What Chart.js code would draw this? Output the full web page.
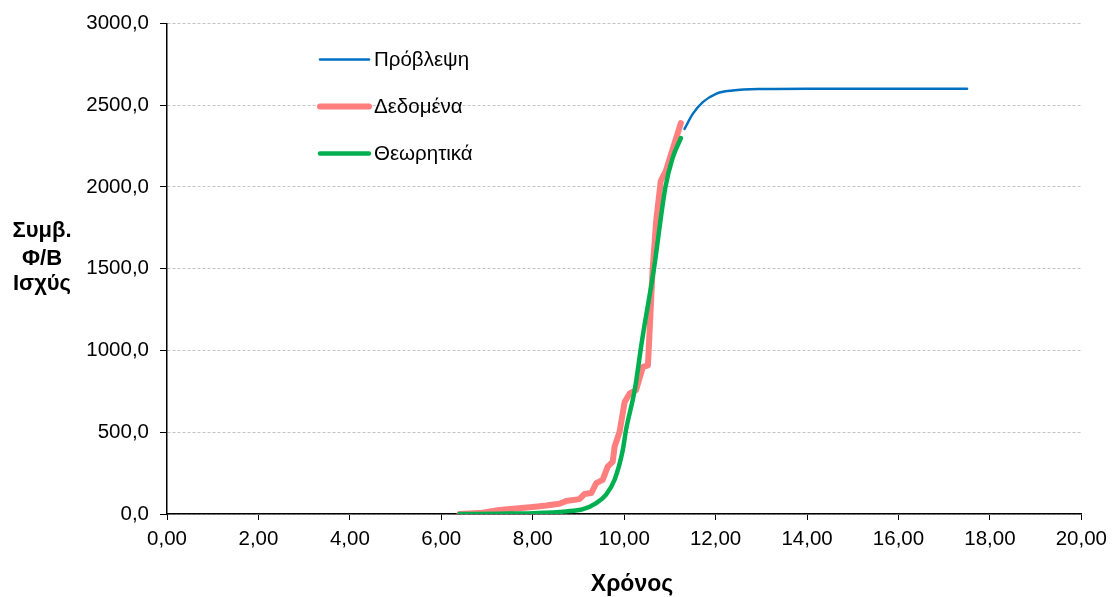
<!DOCTYPE html>
<html>
<head>
<meta charset="utf-8">
<script src="https://cdn.jsdelivr.net/npm/chart.js@4.4.1/dist/chart.umd.min.js"></script>
<style>
    html, body { margin: 0; padding: 0; background: #fff; }
    #wrap { width: 1114px; height: 597px; position: relative; }
</style>
</head>
<body>
<div id="wrap"><canvas id="chart"></canvas></div>
<script>
// Πρόβλεψη
const predX = [11.32, 11.50, 11.72, 12.01, 12.37, 12.95, 14.00, 17.50];
const predY = [2354, 2446, 2518, 2569, 2589, 2598, 2600, 2600];

// Δεδομένα
const dataX = [6.40, 6.90, 7.27, 7.70, 8.00, 8.30, 8.58, 8.73, 9.02, 9.13, 9.28, 9.39, 9.53, 9.64, 9.75, 9.79, 9.90,
    10.01, 10.12, 10.26, 10.41, 10.52, 10.55, 10.62, 10.70, 10.80, 10.91, 11.10, 11.24];
const dataY = [0, 8, 24, 35, 43, 52, 63, 79, 91, 122, 128, 189, 209, 290, 320, 411, 503,
    685, 737, 757, 899, 909, 1081, 1487, 1791, 2035, 2096, 2265, 2390];

// Θεωρητικά
const theoX = [6.40, 7.27, 8.00, 8.73, 9.10, 9.39, 9.60, 9.79, 9.97, 10.04, 10.23, 10.39, 10.65, 10.90, 11.06, 11.24];
const theoY = [0, 2, 5, 16, 30, 67, 117, 209, 391, 513, 757, 1060, 1497, 1996, 2177, 2298];

const labels = ['Πρόβλεψη', 'Δεδομένα', 'Θεωρητικά'];
const colors = ['#0070C0', '#FF7F7F', '#00B050'];
const widths = [2.5, 6, 4.5];

const xTicks = [0, 2, 4, 6, 8, 10, 12, 14, 16, 18, 20];
const yTicks = [0, 500, 1000, 1500, 2000, 2500, 3000];

const yTitle = ['Συμβ.', 'Φ/Β', 'Ισχύς'];
const xTitle = 'Χρόνος';

const FONT = "'Liberation Sans', Arial, sans-serif";
Chart.defaults.font.family = FONT;
Chart.defaults.color = '#000';

function toPoints(xs, ys) {
    return xs.map((x, i) => ({ x: x, y: ys[i] }));
}

// λεζάντα και τίτλοι αξόνων
const extras = {
    id: 'extras',
    afterDraw(chart) {
        const ctx = chart.ctx;
        ctx.save();
        // λεζάντα
        const legendY = [59.5, 106.5, 153.5];
        ctx.font = '20.5px ' + FONT;
        ctx.textBaseline = 'middle';
        ctx.textAlign = 'left';
        labels.forEach((lab, i) => {
            ctx.strokeStyle = colors[i];
            ctx.lineWidth = widths[i];
            ctx.lineCap = 'round';
            ctx.beginPath();
            ctx.moveTo(320, legendY[i]);
            ctx.lineTo(369, legendY[i]);
            ctx.stroke();
            ctx.fillStyle = '#000';
            ctx.fillText(lab, 374, legendY[i] + 1);
        });
        // τίτλος y
        ctx.font = 'bold 22px ' + FONT;
        ctx.textAlign = 'center';
        ctx.textBaseline = 'alphabetic';
        const yBase = [237, 265, 290];
        yTitle.forEach((t, i) => ctx.fillText(t, 42, yBase[i]));
        // τίτλος x
        ctx.font = 'bold 23px ' + FONT;
        ctx.fillText(xTitle, 632, 591);
        ctx.restore();
    }
};

new Chart(document.getElementById('chart'), {
    type: 'line',
    data: {
        datasets: [
            { label: labels[0], data: toPoints(predX, predY), borderColor: colors[0], borderWidth: widths[0],
              cubicInterpolationMode: 'monotone', order: 2 },
            { label: labels[1], data: toPoints(dataX, dataY), borderColor: colors[1], borderWidth: widths[1],
              order: 1, borderJoinStyle: 'round' },
            { label: labels[2], data: toPoints(theoX, theoY), borderColor: colors[2], borderWidth: widths[2],
              cubicInterpolationMode: 'monotone', order: 0 }
        ]
    },
    options: {
        responsive: true,
        maintainAspectRatio: false,
        animation: false,
        elements: { point: { radius: 0 }, line: { fill: false, borderCapStyle: 'round' } },
        layout: { padding: { top: 22, right: 31, left: 0, bottom: 0 } },
        plugins: { legend: { display: false }, tooltip: { enabled: false } },
        scales: {
            x: {
                type: 'linear',
                min: 0,
                max: 20,
                afterBuildTicks: (scale) => { scale.ticks = xTicks.map(v => ({ value: v })); },
                afterFit: (scale) => { scale.height = 83; },
                ticks: {
                    font: { size: 20.5 },
                    padding: 7,
                    maxRotation: 0,
                    callback: (v) => v.toFixed(2).replace('.', ',')
                },
                grid: { drawOnChartArea: false, drawTicks: true, tickLength: 6, tickColor: '#000' },
                border: { color: '#000', width: 1.5 }
            },
            y: {
                min: 0,
                max: 3000,
                afterBuildTicks: (scale) => { scale.ticks = yTicks.map(v => ({ value: v })); },
                afterFit: (scale) => { scale.width = 167; },
                ticks: {
                    font: { size: 20.5 },
                    padding: 11,
                    callback: (v) => v.toFixed(1).replace('.', ',')
                },
                grid: { color: '#c4c4c4', lineWidth: 1, tickLength: 7, tickColor: '#000' },
                border: { color: '#000', width: 1.5, dash: [3, 2] }
            }
        }
    },
    plugins: [extras]
});
</script>
</body>
</html>
